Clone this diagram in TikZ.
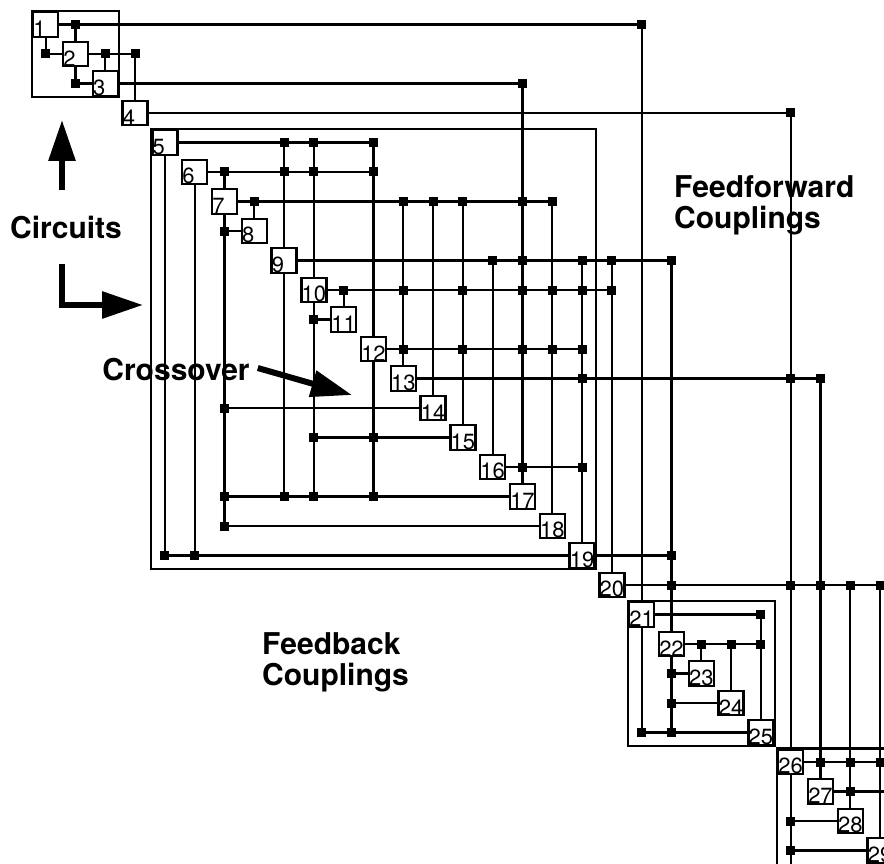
\documentclass[tikz,border=0pt]{standalone}
\usepackage{fontspec}
\setmainfont{TeX Gyre Heros}
\usetikzlibrary{arrows.meta}

\begin{document}
\begin{tikzpicture}[x=1pt,y=-1pt,line join=miter]
\tikzset{
  blk/.style={draw,fill=white,line width=2.4pt,minimum width=25pt,minimum height=24.5pt,inner sep=0pt},
  tag/.style={anchor=south west,inner sep=1.2pt,font=\fontsize{22}{22}\selectfont},
  loopbox/.style={draw,line width=2.2pt},
  link/.style={line width=2.2pt},
  joint/.style={fill,minimum size=9pt,inner sep=0pt},
  note/.style={font=\fontsize{30}{31}\selectfont\bfseries,align=left,inner sep=0pt},
  bigarrow/.style={line width=6pt,-{Triangle[length=41pt,width=26pt]}}
}
\useasboundingbox (0,0) rectangle (884,864);
\clip (0,0) rectangle (884,864);
\coordinate (edge) at (900,900);

\foreach \i in {1,...,29} {
  \node[blk] (b\i) at ({45.75+29.8*(\i-1)},{24.5+29.5*(\i-1)}) {};
  \node[tag] (t\i) at (b\i.south west) {\i};
}

\draw[loopbox] (b1.north west) rectangle (b3.south east);
\draw[loopbox] (b5.north west) rectangle (b19.south east);
\draw[loopbox] (b21.north west) rectangle (b25.south east);
\draw[loopbox] (b26.north west) rectangle (edge);

% feedforward: row i to column j above the diagonal
\foreach \i/\far/\cols in {1/b21/{2,21},2/b4/{3,4},3/b17/{17},4/b26/{26},5/b12/{9,10,12},6/b12/{7,9,10,12},
  7/b18/{8,13,14,15,17,18},9/b22/{16,17,19,20,22},10/b20/{11,13,15,17,18,19,20},12/b19/{13,15,17,18,19},
  13/b27/{19,26,27},16/b19/{17,19},19/b22/{22},20/b29/{22,26,27,28,29},21/b25/{25},22/b25/{23,24,25},
  26/edge/{27,28,29},27/edge/{28}} {
  \draw[link] (b\i.east) -- (\far |- b\i);
  \foreach \j in \cols {
    \node[joint] (d\i-\j) at (b\j |- b\i) {};
    \draw[link] (d\i-\j.center) -- (b\j.north);
  }
}

% feedback: column j down to row i below the diagonal
\foreach \i/\far/\cols in {2/b1/{1},3/b2/{2},8/b7/{7},11/b10/{10},14/b7/{7},15/b10/{10,12},17/b7/{7,9,10,12},
  18/b7/{7},19/b5/{5,6},23/b22/{22},24/b22/{22},25/b21/{21,22},28/b26/{26},29/b26/{26}} {
  \draw[link] (\far |- b\i) -- (b\i.west);
  \foreach \j in \cols {
    \node[joint] (d\i-\j) at (b\j |- b\i) {};
    \draw[link] (b\j.south) -- (d\i-\j.center);
  }
}
\draw[link] (b26.south) -- (b26 |- edge);

\node[note] (circ) at (66,228) {Circuits};
\node[note,anchor=north west] (ff) at (674,175) {Feedforward\\Couplings};
\node[note] (cross) at (176,370) {Crossover};
\node[note,anchor=north west] (fb) at (262,632) {Feedback\\Couplings};

\coordinate (uptail) at (62,190);
\coordinate (uptip) at (62,120);
\coordinate (ltail) at (62,264);
\coordinate (ltip) at (143,305);
\coordinate (xtip) at (352,395);
\draw[bigarrow] (uptail) -- (uptip);
\draw[bigarrow] (ltail) |- (ltip);
\draw[bigarrow] ([xshift=8pt,yshift=2pt]cross.east) -- (xtip);
\end{tikzpicture}
\end{document}
